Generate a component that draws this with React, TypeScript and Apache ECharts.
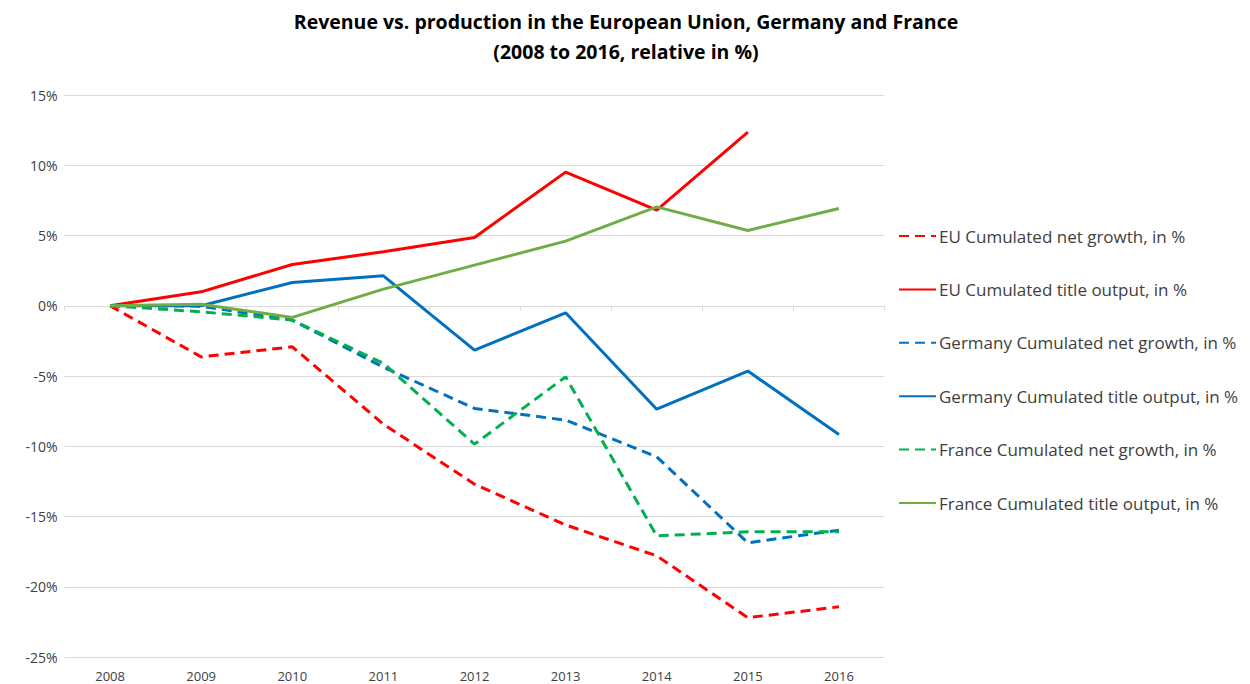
import React, { useEffect, useRef } from "react";
import * as echarts from "echarts";

const years = ["2008", "2009", "2010", "2011", "2012", "2013", "2014", "2015", "2016"];
const euNet = [0, -3.64, -2.92, -8.43, -12.7, -15.6, -17.8, -22.2, -21.43];
const euTitle: (number | null)[] = [0, 0.99, 2.94, 3.84, 4.86, 9.51, 6.8, 12.35, null];
const deNet = [0, -0.03, -1.02, -4.37, -7.31, -8.14, -10.75, -16.87, -15.97];
const deTitle = [0, 0, 1.66, 2.13, -3.16, -0.5, -7.36, -4.65, -9.16];
const frNet = [0, -0.43, -1.02, -4.1, -9.85, -5.06, -16.38, -16.09, -16.09];
const frTitle = [0, 0.11, -0.83, 1.18, 2.89, 4.6, 7.04, 5.36, 6.92];
const yTicks = [-25, -20, -15, -10, -5, 0, 5, 10, 15];

const seriesNames = [
  "EU Cumulated net growth, in %",
  "EU Cumulated title output, in %",
  "Germany Cumulated net growth, in %",
  "Germany Cumulated title output, in %",
  "France Cumulated net growth, in %",
  "France Cumulated title output, in %",
];

export default function App() {
  const ref = useRef<HTMLDivElement>(null);
  useEffect(() => {
    if (!ref.current) return;
    const chart = echarts.init(ref.current, null, { renderer: "svg" });
    const font = "Open Sans";
    const dash = [10, 6];
    const mk = (name: string, data: (number | null)[], color: string, dashed: boolean) => ({
      name,
      type: "line",
      data,
      xAxisIndex: 0,
      symbol: "none",
      showSymbol: false,
      connectNulls: false,
      lineStyle: { color, width: 3, type: dashed ? dash : "solid" },
      itemStyle: { color },
    });
    chart.setOption({
      animation: false,
      backgroundColor: "#ffffff",
      title: {
        text: "Revenue vs. production in the European Union, Germany and France\n(2008 to 2016, relative in %)",
        left: 621,
        textAlign: "center",
        top: 1,
        textStyle: {
          fontFamily: font,
          fontWeight: "bold",
          fontSize: 19.5,
          lineHeight: 30,
          color: "#000000",
        },
      },
      legend: {
        orient: "vertical",
        left: 893,
        top: 221,
        itemWidth: 37,
        itemHeight: 20,
        itemGap: 33.4,
        itemStyle: { opacity: 0 },
        textStyle: { fontFamily: font, fontSize: 17, lineHeight: 20, color: "#404040", padding: [0, 0, 0, -2] },
        data: seriesNames,
      },
      grid: { left: 64.5, right: 365.5, top: 95, bottom: 27, containLabel: false },
      xAxis: [
        {
          type: "category",
          data: years,
          boundaryGap: true,
          axisLine: { onZero: true, lineStyle: { color: "#d9d9d9", width: 1 } },
          axisTick: { show: true, length: 5, lineStyle: { color: "#d9d9d9" } },
          axisLabel: { show: false },
        },
        {
          type: "category",
          data: years,
          boundaryGap: true,
          position: "bottom",
          axisLine: { show: false },
          axisTick: { show: false },
          axisLabel: { show: true, fontFamily: font, fontSize: 13, color: "#404040", margin: 12 },
        },
      ],
      yAxis: {
        type: "value",
        min: -25,
        max: 15,
        interval: 5,
        axisLine: { show: false },
        axisTick: { show: false },
        splitLine: { lineStyle: { color: "#d9d9d9", width: 1 } },
        axisLabel: {
          fontFamily: font,
          fontSize: 14,
          color: "#404040",
          margin: 7,
          formatter: (v: number) => (yTicks.includes(v) ? `${v}%` : ""),
        },
      },
      series: [
        mk(seriesNames[0], euNet, "#ff0000", true),
        mk(seriesNames[1], euTitle, "#ff0000", false),
        mk(seriesNames[2], deNet, "#0070c0", true),
        mk(seriesNames[3], deTitle, "#0070c0", false),
        mk(seriesNames[4], frNet, "#00b050", true),
        mk(seriesNames[5], frTitle, "#70ad47", false),
      ],
    });
    return () => chart.dispose();
  }, []);
  return (
    <div
      ref={ref}
      style={{ position: "fixed", left: 0, top: 0, width: 1250, height: 684 }}
    />
  );
}
